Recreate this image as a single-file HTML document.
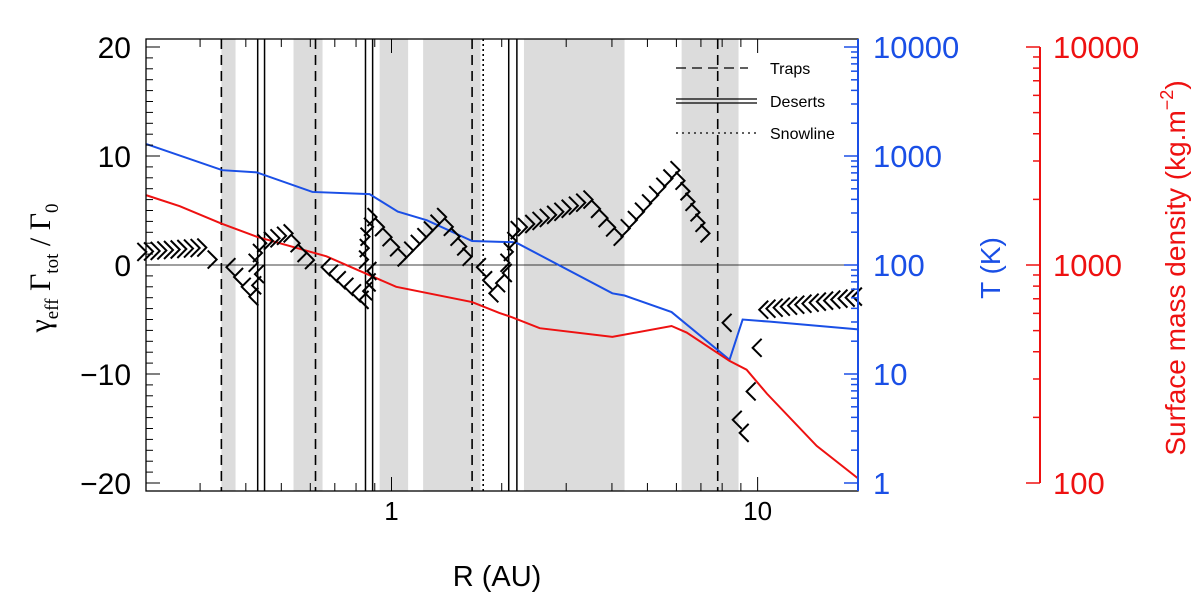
<!DOCTYPE html>
<html><head><meta charset="utf-8">
<style>
html,body{margin:0;padding:0;background:#fff;}
svg{display:block;font-family:"Liberation Sans",sans-serif;}
</style></head>
<body>
<svg id="chart" width="1200" height="593" viewBox="0 0 1200 593" xmlns="http://www.w3.org/2000/svg">
<g id="bands"></g>
<g id="vlines"></g>
<g id="zeroline"></g>
<g id="curves"></g>
<g id="chev"></g>
<g id="axes"></g>
<g id="legend">
  <line x1="676" y1="68" x2="748" y2="68" stroke="#000" stroke-width="1.3" stroke-dasharray="10,6"/>
  <text x="770" y="74" font-size="16">Traps</text>
  <line x1="676" y1="99" x2="757" y2="99" stroke="#000" stroke-width="1.2"/>
  <line x1="676" y1="103" x2="757" y2="103" stroke="#000" stroke-width="1.2"/>
  <text x="770" y="107" font-size="16">Deserts</text>
  <line x1="676" y1="133" x2="757" y2="133" stroke="#000" stroke-width="1.2" stroke-dasharray="2,4"/>
  <text x="770" y="139" font-size="16">Snowline</text>
</g>
<text x="497" y="586" font-size="29" text-anchor="middle">R (AU)</text>
<text transform="translate(50,268) rotate(-90)" font-size="30" text-anchor="middle" font-family="'Liberation Serif',serif">γ<tspan font-size="19" dy="8">eff</tspan><tspan dy="-8"> Γ</tspan><tspan font-size="19" dy="8">tot</tspan><tspan dy="-8"> / Γ</tspan><tspan font-size="19" dy="8">0</tspan></text>
<text transform="translate(1000,268) rotate(-90)" font-size="28" fill="#1a4fe6" text-anchor="middle">T (K)</text>
<text transform="translate(1185,268) rotate(-90)" font-size="28" fill="#ee1111" text-anchor="middle">Surface mass density  (kg.m<tspan font-size="18" dy="-12">−2</tspan><tspan dy="12">)</tspan></text>
</svg>
<script>
// ---- data ----
const bandStart = [0.343, 0.540, 0.928, 1.22, 2.30, 6.20];
const bandEnd   = [0.375, 0.648, 1.11, 1.75, 4.33, 8.87];
const trapR = [0.343, 0.620, 1.66, 7.78];
const desertR = [0.431, 0.450, 0.849, 0.888, 2.09, 2.20];
const snowlineR = [1.78];
const tempR = [0.214,0.345,0.428,0.608,0.871,1.04,1.25,1.66,2.14,2.21,4.01,4.33,5.82,8.38,9.10,10.8,18.8];
const tempV = [1288,741,708,468,447,309,257,166,162,158,55,52.5,37,13.5,31.6,30.2,25.7];
const sigR = [0.214,0.264,0.343,0.428,0.664,1.03,1.66,1.97,2.14,2.54,4.01,5.82,6.40,8.38,9.33,10.6,14.5,18.8];
const sigV = [2089,1862,1549,1349,1096,794,676,603,575,513,468,525,490,363,331,257,148,105];
const gamR = [0.214,0.312,0.333,0.354,0.409,0.431,0.455,0.537,0.586,0.644,0.818,0.855,0.871,0.910,1.10,1.41,1.60,1.71,1.85,2.10,2.24,3.54,4.28,6.12,7.39,null,8.02,null,9.69,null,9.33,null,8.55,null,8.93,null,10.1,18.2];
const gamV = [1.2,1.6,0.5,-0.2,-2.9,0.2,2.0,2.9,1.1,-0.2,-3.2,-1.6,2.6,4.4,0.7,4.4,1.7,-0.2,-2.6,0.2,3.2,6.0,2.6,8.7,2.9,null,-5.3,null,-7.6,null,-11.6,null,-14.2,null,-15.4,null,-4.1,-2.9];
const xTickLabels = ["1","10"];
const gTickLabels = ["−20","−10","0","10","20"];
const tTickLabels = ["1","10","100","1000","10000"];
const sTickLabels = ["100","1000","10000"];

// ---- axes functions ----
const L=146,R=858,T=39,B=491;
const xmin=Math.log10(0.2135), xmax=Math.log10(18.8);
const X=r=>L+(Math.log10(r)-xmin)/(xmax-xmin)*(R-L);
const Yg=v=>265-v*10.9;
const Yt=t=>483-Math.log10(t)*109;
const Ys=s=>483-(Math.log10(s)-2)*218;
const NS="http://www.w3.org/2000/svg";
function mk(parent,tag,attrs){const e=document.createElementNS(NS,tag);for(const k in attrs)e.setAttribute(k,attrs[k]);parent.appendChild(e);return e;}

// bands
const gb=document.getElementById('bands');
bandStart.forEach((s,i)=>{
  const r=mk(gb,'rect',{x:X(s),y:T,width:X(bandEnd[i])-X(s),height:B-T,fill:'#dcdcdc'});
  
  
});
// vertical lines
const gv=document.getElementById('vlines');
trapR.forEach(r=>{const l=mk(gv,'line',{x1:X(r),x2:X(r),y1:T,y2:B,stroke:'#000','stroke-width':1.6,'stroke-dasharray':'10,6'});
  
  });
desertR.forEach(r=>{const l=mk(gv,'line',{x1:X(r),x2:X(r),y1:T,y2:B,stroke:'#000','stroke-width':1.5});
  
  });
snowlineR.forEach(r=>{const l=mk(gv,'line',{x1:X(r),x2:X(r),y1:T,y2:B,stroke:'#000','stroke-width':1.6,'stroke-dasharray':'2,3'});
  
  });
mk(document.getElementById('zeroline'),'line',{x1:L,x2:R,y1:Yg(0),y2:Yg(0),stroke:'#000','stroke-width':0.8});

// curves
const gc=document.getElementById('curves');
const tp=mk(gc,'polyline',{points:tempR.map((r,i)=>X(r)+','+Yt(tempV[i])).join(' '),fill:'none',stroke:'#1a4fe6','stroke-width':2});


const sp=mk(gc,'polyline',{points:sigR.map((r,i)=>X(r)+','+Ys(sigV[i])).join(' '),fill:'none',stroke:'#ee1111','stroke-width':2});



// chevrons: fixed ">" (outward) or "<" (inward)
const gch=document.getElementById('chev');
function chevron(x,y,sign){
  const a=9;
  const c=mk(gch,'polyline',{points:`${x-sign*a},${y-a} ${x},${y} ${x-sign*a},${y+a}`,fill:'none',stroke:'#000','stroke-width':2});
  
  
}
let seg=[];
function flush(){
  if(seg.length===1){const p=seg[0];chevron(p[0],p[1],p[2]>=0?1:-1);}
  else if(seg.length>1){
    for(let i=0;i<seg.length-1;i++){
      const a=seg[i],b=seg[i+1];const dx=b[0]-a[0],dy=b[1]-a[1];
      const n=Math.max(1,Math.round(Math.abs(dx)/7),Math.round(Math.abs(dy)/11));
      for(let k=0;k<n;k++){const t=k/n;const v=a[2]+(b[2]-a[2])*t;
        chevron(a[0]+dx*t,a[1]+dy*t,v>=0?1:-1);}
    }
    const e=seg[seg.length-1];chevron(e[0],e[1],e[2]>=0?1:-1);
  }
  seg=[];
}
gamR.forEach((r,i)=>{if(r===null){flush();return;}seg.push([X(r),Yg(gamV[i]),gamV[i]]);});
flush();

// axes
const ga=document.getElementById('axes');
mk(ga,'rect',{x:L,y:T,width:R-L,height:B-T,fill:'none',stroke:'#000','stroke-width':1.3});
mk(ga,'line',{x1:R,x2:R,y1:T,y2:B,stroke:'#1a4fe6','stroke-width':2});
// x ticks
const xt=[];for(let d=-1;d<=1;d++)for(let m=1;m<=9;m++){const v=m*Math.pow(10,d);if(v>=0.2135&&v<=18.8)xt.push([v,m===1]);}
xt.forEach(([v,maj])=>{const x=X(v),h=maj?14:8;
  mk(ga,'line',{x1:x,x2:x,y1:B,y2:B-h,stroke:'#000','stroke-width':1});
  mk(ga,'line',{x1:x,x2:x,y1:T,y2:T+h,stroke:'#000','stroke-width':1});});
[1,10].forEach((v,i)=>{const t=mk(ga,'text',{x:X(v),y:520,'font-size':26,'text-anchor':'middle'});t.textContent=xTickLabels[i];
  
  });
// left ticks
for(let v=-20;v<=20;v++){const maj=v%10===0;mk(ga,'line',{x1:L,x2:L+(maj?14:7),y1:Yg(v),y2:Yg(v),stroke:'#000','stroke-width':1});}
[-20,-10,0,10,20].forEach((v,i)=>{const t=mk(ga,'text',{x:131,y:Yg(v)+11,'font-size':30,'text-anchor':'end'});t.textContent=gTickLabels[i];
  
  });
// T ticks
for(let d=0;d<=4;d++)for(let m=1;m<=9;m++){if(d===4&&m>1)break;const y=Yt(m*Math.pow(10,d));mk(ga,'line',{x1:R,x2:R-(m===1?14:7),y1:y,y2:y,stroke:'#1a4fe6','stroke-width':1.5});}
[1,10,100,1000,10000].forEach((v,i)=>{const t=mk(ga,'text',{x:873,y:Yt(v)+11,'font-size':31,fill:'#1a4fe6'});t.textContent=tTickLabels[i];
  
  });
// Sigma axis
const SX=1040;
mk(ga,'line',{x1:SX,x2:SX,y1:Ys(100),y2:Ys(10000),stroke:'#ee1111','stroke-width':2});
for(let d=2;d<=4;d++)for(let m=1;m<=9;m++){if(d===4&&m>1)break;const y=Ys(m*Math.pow(10,d));mk(ga,'line',{x1:SX,x2:SX-(m===1?14:7),y1:y,y2:y,stroke:'#ee1111','stroke-width':1.5});}
[100,1000,10000].forEach((v,i)=>{const t=mk(ga,'text',{x:1053,y:Ys(v)+11,'font-size':31,fill:'#ee1111'});t.textContent=sTickLabels[i];
  
  });
</script>
</body></html>
